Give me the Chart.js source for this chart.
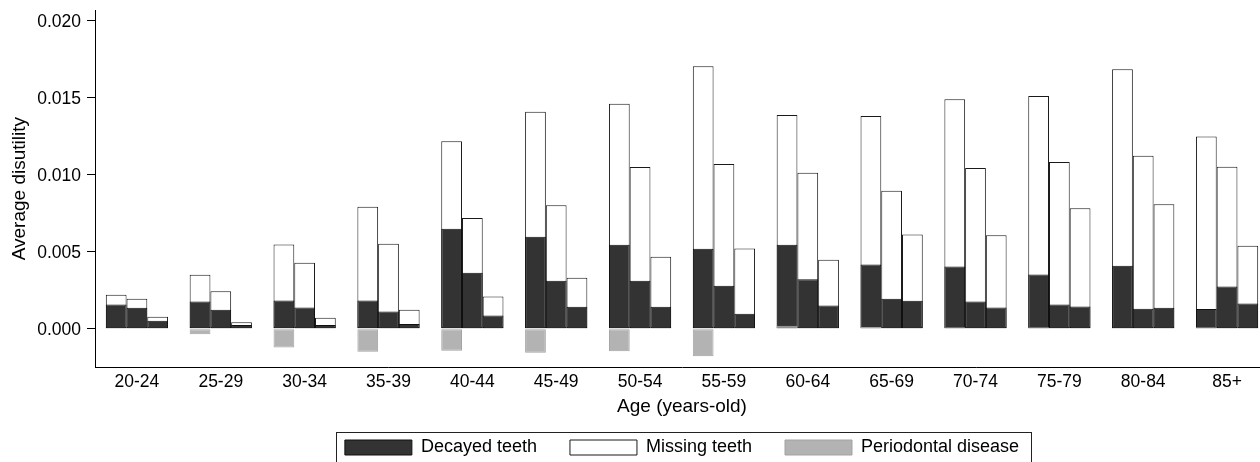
<!DOCTYPE html>
<html>
<head>
<meta charset="utf-8">
<script src="https://cdn.jsdelivr.net/npm/chart.js@4"></script>
<style>
  html, body { margin: 0; padding: 0; background: #fff; overflow: hidden; }
  #wrap { width: 1270px; height: 470px; }
</style>
</head>
<body>
<div id="wrap"><canvas id="grafico"></canvas></div>
<script>
const ageGroups = ['20-24', '25-29', '30-34', '35-39', '40-44', '45-49', '50-54',
  '55-59', '60-64', '65-69', '70-74', '75-79', '80-84', '85+'];

// first bar of each age group
const decayed1 = [0.00158, 0.00178, 0.00184, 0.00184, 0.00649, 0.00597, 0.00545,
  0.00520, 0.00545, 0.00418, 0.00405, 0.00353, 0.00409, 0.00128];
const missing1 = [0.00063, 0.00173, 0.00364, 0.00608, 0.00568, 0.00812, 0.00916,
  0.01184, 0.00843, 0.00963, 0.01085, 0.01158, 0.01277, 0.01121];
const periodontal1 = [0, -0.00036, -0.00121, -0.00149, -0.00143, -0.00156, -0.00145,
  -0.00179, 0.00020, 0.00012, 0.00010, 0.00010, 0.00004, 0.00010];

// second bar
const decayed2 = [0.00136, 0.00123, 0.00139, 0.00113, 0.00364, 0.00312, 0.00312,
  0.00279, 0.00321, 0.00195, 0.00178, 0.00158, 0.00130, 0.00275];
const missing2 = [0.00059, 0.00120, 0.00290, 0.00439, 0.00355, 0.00491, 0.00738,
  0.00791, 0.00692, 0.00701, 0.00866, 0.00925, 0.00993, 0.00777];

// third bar
const decayed3 = [0.00052, 0.00024, 0.00024, 0.00031, 0.00087, 0.00143, 0.00143,
  0.00097, 0.00152, 0.00182, 0.00139, 0.00145, 0.00136, 0.00165];
const missing3 = [0.00026, 0.00018, 0.00047, 0.00092, 0.00123, 0.00188, 0.00325,
  0.00425, 0.00296, 0.00431, 0.00468, 0.00637, 0.00672, 0.00374];

const yTicks = [0, 0.005, 0.010, 0.015, 0.020];

const DARK = '#333333';
const GRAY = '#b3b3b3';

Chart.defaults.font.family = "'Liberation Sans', Arial, sans-serif";
Chart.defaults.color = '#000';

// white bars show decayed + missing, dark bars drawn over them
const topOf = (d, m) => d.map((v, i) => v + m[i]);

function darkSet(data, stack, legend) {
  return { label: 'Decayed teeth', data, stack, order: 1, legend,
    backgroundColor: DARK, borderColor: '#111', borderWidth: 1, borderSkipped: false };
}
function whiteSet(data, stack, legend) {
  return { label: 'Missing teeth', data, stack, order: 2, legend,
    backgroundColor: '#fff', borderColor: '#1a1a1a', borderWidth: 1, borderSkipped: false };
}

const datasets = [
  darkSet(decayed1, 'b1', true),
  darkSet(decayed2, 'b2', false),
  darkSet(decayed3, 'b3', false),
  whiteSet(topOf(decayed1, missing1), 'b1', true),
  whiteSet(topOf(decayed2, missing2), 'b2', false),
  whiteSet(topOf(decayed3, missing3), 'b3', false),
  { label: 'Periodontal disease', data: periodontal1, stack: 'b1', order: 0, legend: true,
    backgroundColor: GRAY, borderColor: '#a3a3a3', borderWidth: 1, borderSkipped: false }
];

const legendFrame = {
  id: 'legendFrame',
  afterDraw(chart) {
    const boxes = chart.legend && chart.legend.legendHitBoxes;
    if (!boxes || !boxes.length) return;
    const first = boxes[0];
    const last = boxes[boxes.length - 1];
    const x0 = Math.round(first.left - 9) + 0.5;
    const y0 = Math.round(first.top - 6.5) + 0.5;
    const x1 = Math.round(last.left + last.width + 12) + 0.5;
    const ctx = chart.ctx;
    ctx.save();
    ctx.strokeStyle = '#222';
    ctx.lineWidth = 1;
    ctx.strokeRect(x0, y0, x1 - x0, 45);
    ctx.restore();
  }
};

const ctx = document.getElementById('grafico').getContext('2d');
new Chart(ctx, {
  type: 'bar',
  data: { labels: ageGroups, datasets },
  plugins: [legendFrame],
  options: {
    responsive: true,
    maintainAspectRatio: false,
    animation: false,
    categoryPercentage: 0.742,
    barPercentage: 1,
    layout: { padding: { left: 1, right: 1, top: 10, bottom: 3.5 } },
    scales: {
      x: {
        stacked: true,
        grid: { display: false, drawTicks: false },
        border: { display: true, color: '#000', width: 1 },
        ticks: { padding: 4.5, font: { size: 17.5 }, maxRotation: 0, autoSkip: false },
        title: { display: true, text: 'Age (years-old)', font: { size: 19 },
          padding: { top: 0, bottom: -12.7 } },
        afterFit(scale) {
          scale.height = 38.2;
          scale.paddingLeft = 0;
          scale.paddingRight = 0;
        }
      },
      y: {
        stacked: false,
        min: -0.0025,
        max: 0.0207,
        afterBuildTicks(scale) {
          scale.ticks = yTicks.map(v => ({ value: v }));
        },
        ticks: {
          padding: 6,
          labelOffset: 1.5,
          font: { size: 17.5 },
          callback: v => Number(v).toFixed(3)
        },
        grid: { drawOnChartArea: false, tickLength: 8, color: '#000', lineWidth: 1 },
        border: { display: true, color: '#000', width: 1 },
        title: { display: true, text: 'Average disutility', font: { size: 19 },
          padding: { top: 7, bottom: 0 } },
        afterFit(scale) {
          scale.width = 94;
          scale.paddingTop = 0;
          scale.paddingBottom = 0;
        }
      }
    },
    plugins: {
      tooltip: { enabled: false },
      legend: {
        position: 'bottom',
        fullSize: false,
        labels: {
          boxWidth: 67,
          boxHeight: 15,
          padding: 33,
          font: { size: 18 },
          filter: (item, data) => data.datasets[item.datasetIndex].legend,
          sort: (a, b) => a.datasetIndex - b.datasetIndex
        }
      }
    }
  }
});
</script>
</body>
</html>
